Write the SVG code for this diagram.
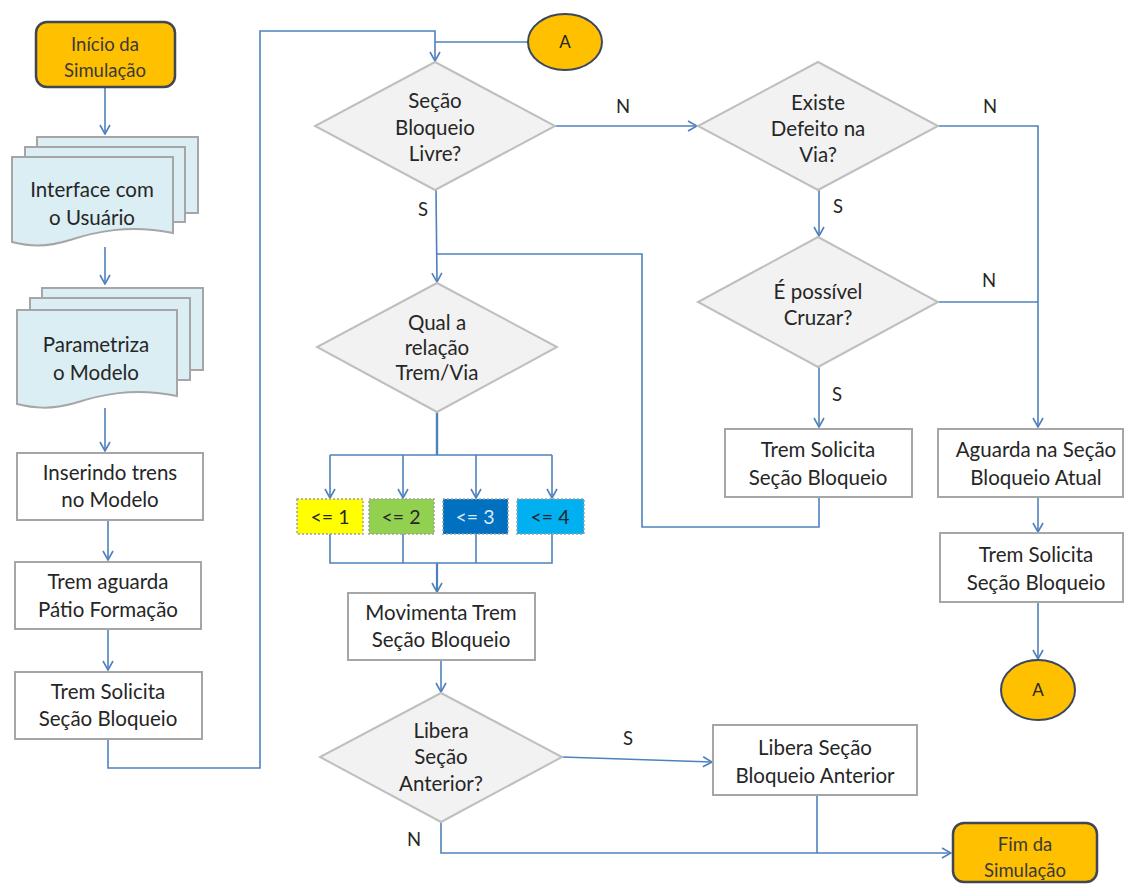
<svg xmlns="http://www.w3.org/2000/svg" width="1125" height="886" viewBox="0 0 1125 886">
  <defs>
    <marker id="arr" viewBox="0 0 12 12" refX="11" refY="6" markerWidth="12" markerHeight="12" markerUnits="userSpaceOnUse" orient="auto">
      <path d="M2,1 L11,6 L2,11" fill="none" stroke="#4F81BD" stroke-width="1.6"/>
    </marker>
    <style>
      .t { font-family: Lato, "Open Sans", "Liberation Sans", sans-serif; font-size: 20.5px; fill: #262626; text-anchor: middle; }
      .ts { font-family: Lato, "Open Sans", "Liberation Sans", sans-serif; font-size: 18.5px; fill: #3a3a3a; text-anchor: middle; }
      .lbl { font-family: Lato, "Open Sans", "Liberation Sans", sans-serif; font-size: 18.5px; fill: #262626; text-anchor: middle; }
      .box { fill: #ffffff; stroke: #a6a6a6; stroke-width: 2; }
      .dia { fill: #f2f2f2; stroke: #bfbfbf; stroke-width: 2; }
      .doc { fill: #dbeef4; stroke: #a6a6a6; stroke-width: 2; }
      .term { fill: #ffc000; stroke: #404654; stroke-width: 2.5; }
      .conn { fill: #ffc000; stroke: #3a4763; stroke-width: 2; }
      .sel { stroke: #a0a0a0; stroke-width: 1.5; stroke-dasharray: 2 2; }
      .ln { fill: none; stroke: #4F81BD; stroke-width: 1.6; }
      .lnm { fill: none; stroke: #4F81BD; stroke-width: 1.6; marker-end: url(#arr); }
    </style>
  </defs>
  <rect width="1125" height="886" fill="#ffffff"/>

  <!-- connectors -->
  <g id="connectors">
    <line class="lnm" x1="105" y1="88" x2="105" y2="134"/>
    <line class="lnm" x1="105" y1="247" x2="105" y2="284"/>
    <line class="lnm" x1="105" y1="408" x2="105" y2="451"/>
    <line class="lnm" x1="108" y1="520" x2="108" y2="560"/>
    <line class="lnm" x1="108" y1="629" x2="108" y2="670"/>
    <polyline class="lnm" points="108,739 108,768 260,768 260,31 435,31 435,61"/>
    <polyline class="ln" points="528,42 435,42"/>
    <!-- Seção Bloqueio Livre? -->
    <line class="lnm" x1="553" y1="126" x2="697" y2="126"/>
    <line class="lnm" x1="436" y1="190" x2="437" y2="282"/>
    <polyline class="ln" points="819,497 819,527 642,527 642,254 437,254"/>
    <!-- Qual a relação -->
    <line class="ln" x1="437" y1="412" x2="437" y2="455" style="stroke-width:2.4"/>
    <polyline class="ln" points="330,455 552,455"/>
    <line class="lnm" x1="330" y1="455" x2="330" y2="498"/>
    <line class="lnm" x1="403" y1="455" x2="403" y2="498"/>
    <line class="lnm" x1="476" y1="455" x2="476" y2="498"/>
    <line class="lnm" x1="552" y1="455" x2="552" y2="498"/>
    <polyline class="ln" points="330,534 330,563 552,563 552,534"/>
    <line class="ln" x1="403" y1="534" x2="403" y2="563"/>
    <line class="ln" x1="476" y1="534" x2="476" y2="563"/>
    <line class="lnm" x1="437" y1="563" x2="437" y2="592" style="stroke-width:2.2"/>
    <line class="lnm" x1="441" y1="660" x2="441" y2="692"/>
    <!-- Libera Seção Anterior? -->
    <line class="lnm" x1="562" y1="757" x2="712" y2="762"/>
    <polyline class="lnm" points="441,822 441,853 951,853"/>
    <line class="ln" x1="817" y1="795" x2="817" y2="853"/>
    <!-- right column -->
    <line class="lnm" x1="819" y1="190" x2="819" y2="236"/>
    <polyline class="lnm" points="938,126 1038,126 1038,427"/>
    <line class="ln" x1="938" y1="302" x2="1038" y2="302"/>
    <line class="lnm" x1="819" y1="367" x2="819" y2="427"/>
    <line class="lnm" x1="1038" y1="497" x2="1038" y2="532"/>
    <line class="lnm" x1="1038" y1="602" x2="1038" y2="659"/>
    <!-- branch labels -->
    <text class="lbl" x="623" y="113">N</text>
    <text class="lbl" x="990" y="113">N</text>
    <text class="lbl" x="423" y="216">S</text>
    <text class="lbl" x="838" y="213">S</text>
    <text class="lbl" x="989" y="287">N</text>
    <text class="lbl" x="837" y="401">S</text>
    <text class="lbl" x="628" y="745">S</text>
    <text class="lbl" x="414" y="846">N</text>
  </g>

  <!-- start terminal -->
  <g id="inicio">
    <rect class="term" x="36" y="22" width="139" height="65" rx="11"/>
    <text class="ts" x="105" y="51">Início da</text>
    <text class="ts" x="105" y="77">Simulação</text>
  </g>

  <!-- multi-document: user interface -->
  <g id="interface">
    <rect class="doc" x="37" y="137" width="161" height="76"/>
    <rect class="doc" x="25" y="147" width="160" height="75"/>
    <path class="doc" d="M12,157 H173 V233 C128,224 95,232 70,240 C45,248 28,246 12,242 Z"/>
    <text class="t" x="92" y="197">Interface com</text>
    <text class="t" x="92" y="225">o Usuário</text>
  </g>

  <!-- multi-document: model parameters -->
  <g id="parametriza">
    <rect class="doc" x="42" y="288" width="161" height="82"/>
    <rect class="doc" x="30" y="298" width="160" height="82"/>
    <path class="doc" d="M17,310 H177 V396 C132,387 100,395 75,403 C50,410 33,408 17,404 Z"/>
    <text class="t" x="96" y="352">Parametriza</text>
    <text class="t" x="96" y="380">o Modelo</text>
  </g>

  <g id="inserindo">
    <rect class="box" x="17" y="453" width="186" height="67"/>
    <text class="t" x="110" y="480">Inserindo trens</text>
    <text class="t" x="110" y="507">no Modelo</text>
  </g>

  <g id="aguarda-patio">
    <rect class="box" x="15" y="562" width="186" height="67"/>
    <text class="t" x="108" y="589">Trem aguarda</text>
    <text class="t" x="108" y="617">Pátio Formação</text>
  </g>

  <g id="solicita-1">
    <rect class="box" x="15" y="672" width="187" height="67"/>
    <text class="t" x="108" y="699">Trem Solicita</text>
    <text class="t" x="108" y="726">Seção Bloqueio</text>
  </g>

  <g id="conector-a-topo">
    <ellipse class="conn" cx="565" cy="42" rx="37" ry="28"/>
    <text class="lbl" x="565" y="48" style="font-size:17px">A</text>
  </g>

  <g id="secao-livre">
    <polygon class="dia" points="435,62 555,126 435,190 315,126"/>
    <text class="t" x="435" y="108">Seção</text>
    <text class="t" x="435" y="135">Bloqueio</text>
    <text class="t" x="435" y="161">Livre?</text>
  </g>

  <g id="relacao">
    <polygon class="dia" points="437,283 557,347 437,412 317,347"/>
    <text class="t" x="437" y="330">Qual a</text>
    <text class="t" x="437" y="355">relação</text>
    <text class="t" x="437" y="380">Trem/Via</text>
  </g>

  <g id="faixa-1">
    <rect class="sel" x="297" y="499" width="66" height="35" fill="#ffff00"/>
    <text class="lbl" x="330" y="524" style="font-size:19.5px">&lt;= 1</text>
  </g>
  <g id="faixa-2">
    <rect class="sel" x="369" y="499" width="65" height="35" fill="#92d050"/>
    <text class="lbl" x="401" y="524" style="font-size:19.5px">&lt;= 2</text>
  </g>
  <g id="faixa-3">
    <rect class="sel" x="443" y="499" width="65" height="35" fill="#0070c0"/>
    <text class="lbl" x="475" y="524" style="font-size:19.5px;fill:#dbe8f6">&lt;= 3</text>
  </g>
  <g id="faixa-4">
    <rect class="sel" x="517" y="499" width="67" height="35" fill="#00b0f0"/>
    <text class="lbl" x="550" y="524" style="font-size:19.5px">&lt;= 4</text>
  </g>

  <g id="movimenta">
    <rect class="box" x="348" y="593" width="187" height="67"/>
    <text class="t" x="441" y="620">Movimenta Trem</text>
    <text class="t" x="441" y="647">Seção Bloqueio</text>
  </g>

  <g id="libera-decisao">
    <polygon class="dia" points="441,693 562,757 441,822 320,757"/>
    <text class="t" x="441" y="738">Libera</text>
    <text class="t" x="441" y="764">Seção</text>
    <text class="t" x="441" y="791">Anterior?</text>
  </g>

  <g id="libera-anterior">
    <rect class="box" x="713" y="725" width="204" height="70"/>
    <text class="t" x="815" y="755">Libera Seção</text>
    <text class="t" x="815" y="783">Bloqueio  Anterior</text>
  </g>

  <g id="fim">
    <rect class="term" x="953" y="823" width="144" height="59" rx="11"/>
    <text class="ts" x="1025" y="851">Fim da</text>
    <text class="ts" x="1025" y="877">Simulação</text>
  </g>

  <g id="defeito">
    <polygon class="dia" points="818,62 938,126 818,190 698,126"/>
    <text class="t" x="818" y="110">Existe</text>
    <text class="t" x="818" y="136">Defeito na</text>
    <text class="t" x="818" y="162">Via?</text>
  </g>

  <g id="cruzar">
    <polygon class="dia" points="818,237 938,302 818,367 698,302"/>
    <text class="t" x="818" y="299">É possível</text>
    <text class="t" x="818" y="325">Cruzar?</text>
  </g>

  <g id="solicita-2">
    <rect class="box" x="725" y="429" width="187" height="68"/>
    <text class="t" x="818" y="457">Trem Solicita</text>
    <text class="t" x="818" y="485">Seção Bloqueio</text>
  </g>

  <g id="aguarda-atual">
    <rect class="box" x="938" y="429" width="185" height="68"/>
    <text class="t" x="1036" y="457">Aguarda na Seção</text>
    <text class="t" x="1036" y="485">Bloqueio  Atual</text>
  </g>

  <g id="solicita-3">
    <rect class="box" x="940" y="533" width="183" height="69"/>
    <text class="t" x="1036" y="562">Trem Solicita</text>
    <text class="t" x="1036" y="590">Seção Bloqueio</text>
  </g>

  <g id="conector-a-base">
    <ellipse class="conn" cx="1038" cy="690" rx="37" ry="30"/>
    <text class="lbl" x="1038" y="696" style="font-size:17px">A</text>
  </g>
</svg>
